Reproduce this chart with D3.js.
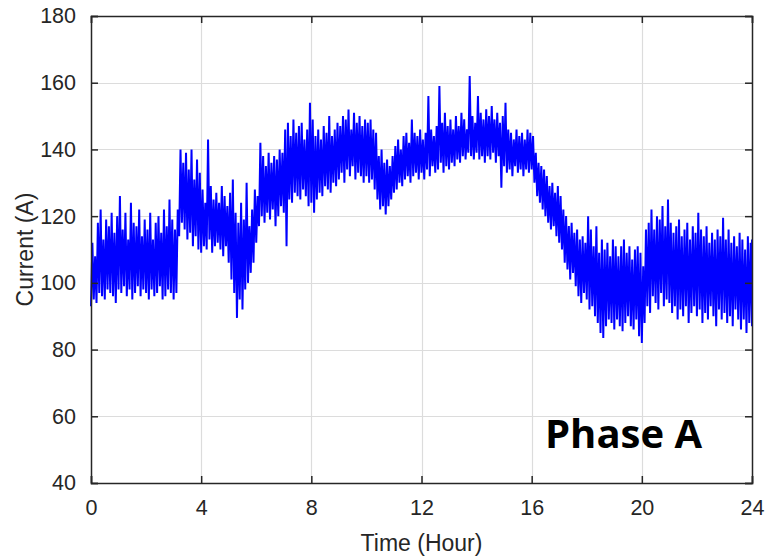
<!DOCTYPE html>
<html>
<head>
<meta charset="utf-8">
<script src="https://cdn.jsdelivr.net/npm/d3@7"></script>
<style>
  html, body { margin: 0; padding: 0; background: #fff; }
  svg { display: block; }
  text { font-family: "Liberation Sans", Arial, Helvetica, sans-serif; fill: #262626; }
</style>
</head>
<body>
<script>
// ---- data ----
const xTicks = [0, 4, 8, 12, 16, 20, 24];
const yTicks = [40, 60, 80, 100, 120, 140, 160, 180];
const step = 0.1; // hours between samples
// upper envelope of the current trace, every 0.1 h from 0 to 24
const hi = [
  112,108,118,122,113,119,117,121,115,120,
  126,116,121,113,124,118,117,122,114,119,
  116,121,113,118,120,115,122,117,125,119,
  116,122,140,136,139,134,140,131,137,133,
  128,124,143,129,125,127,124,129,126,123,
  127,131,121,118,124,119,130,117,122,128,
  126,142,138,135,139,136,138,137,140,139,
  146,148,144,149,145,147,148,143,146,154,
  149,144,146,143,147,145,150,144,146,148,
  147,150,149,152,146,151,148,150,147,149,
  148,149,146,145,138,140,136,137,135,138,
  141,143,140,144,145,142,149,145,144,146,
  143,145,156,146,144,147,159,148,151,147,
  149,146,150,147,151,149,146,162,150,148,
  156,151,149,152,150,153,149,151,148,150,
  154,146,145,143,146,144,145,143,146,145,
  144,139,136,135,134,132,129,130,127,129,
  126,122,120,117,118,115,116,113,114,112,
  120,116,111,117,109,113,110,112,108,113,
  111,108,111,113,109,111,107,110,111,109,
  105,116,118,122,116,120,119,123,117,125,
  118,115,117,119,114,116,118,113,117,115,
  121,116,114,117,112,115,113,116,114,119.5,
  113,116,112,114,111,115,113,110,114,112,
  113
];
// lower envelope of the current trace, every 0.1 h from 0 to 24
const lo = [
  93,95,94,97,96,95,98,97,96,94,
  98,97,99,96,98,95,97,99,96,98,
  97,95,98,96,97,99,95,96,98,97,
  95,97,114,118,116,113,115,111,114,110,
  109,111,110,113,109,111,112,110,108,111,
  106,101,97,89.5,95,92,98,100,103,106,
  112,117,120,118,121,119,122,117,120,123,
  121,111,125,124,127,126,125,128,126,123,
  124,121,125,127,126,129,128,127,130,129,
  131,133,130,134,132,135,131,133,132,130,
  132,130,131,128,125,122,123,120.5,123,125,
  127,128,130,129,131,132,130,132,133,131,
  133,131,134,132,135,133,134,136,133,135,
  134,136,135,137,136,138,137,139,138,137,
  139,137,138,136,138,137,139,136,138,128.5,
  135,133,134,132,135,133,134,132,134,133,
  134,130,126,124,122,120,118,116,117,114,
  112,110,106,104,101,103,99,96,94,97,
  95,92,93,90,88,85,83.5,87,89,88,
  86,89,87,85.5,88,90,87,86,89,84,
  82,88,93,91,96,94,92,97,93,95,
  94,91,93,89,92,90,93,88,91,93,
  90,92,88,91,89,93,90,87,92,89,
  91,88,90,87,92,89,86,89,85,88,
  87
];
const xLabel = "Time (Hour)";
const yLabel = "Current (A)";
const annotation = "Phase A";

// ---- layout ----
const W = 768, H = 556;
const m = { left: 91, right: 16, top: 16, bottom: 73 };
const pw = W - m.left - m.right, ph = H - m.top - m.bottom;

const svg = d3.select("body").append("svg").attr("width", W).attr("height", H);
const g = svg.append("g").attr("transform", `translate(${m.left},${m.top})`);

const x = d3.scaleLinear().domain([0, 24]).range([0, pw]);
const y = d3.scaleLinear().domain([40, 180]).range([ph, 0]);

// grid
g.append("g").selectAll("line").data(xTicks.slice(1, -1)).join("line")
  .attr("x1", d => Math.round(x(d)) + 0.5).attr("x2", d => Math.round(x(d)) + 0.5)
  .attr("y1", 0).attr("y2", ph).attr("stroke", "#dcdcdc").attr("stroke-width", 1.2);
g.append("g").selectAll("line").data(yTicks.slice(1, -1)).join("line")
  .attr("y1", d => Math.round(y(d)) + 0.5).attr("y2", d => Math.round(y(d)) + 0.5)
  .attr("x1", 0).attr("x2", pw).attr("stroke", "#dcdcdc").attr("stroke-width", 1.2);

// series: zig-zag between low and high envelope samples
const pts = [];
hi.forEach((h, i) => {
  const t = i * step;
  pts.push([t, lo[i]]);
  if (i < hi.length - 1) pts.push([t + step / 2, h]);
  else pts.push([t, h]);
});
const line = d3.line().x(d => x(d[0])).y(d => y(d[1]));
g.append("path").datum(pts).attr("d", line)
  .attr("fill", "none").attr("stroke", "#0000ff").attr("stroke-width", 2)
  .attr("stroke-linejoin", "miter").attr("stroke-miterlimit", 2);

// axes (MATLAB-style box with inward ticks)
const tickLen = 7;
const axB = g.append("g").attr("transform", `translate(0,${ph})`)
  .call(d3.axisBottom(x).tickValues(xTicks).tickSize(-tickLen).tickPadding(tickLen + 10).tickFormat(d3.format("d")));
const axT = g.append("g")
  .call(d3.axisTop(x).tickValues(xTicks).tickSize(-tickLen).tickFormat(""));
const axL = g.append("g")
  .call(d3.axisLeft(y).tickValues(yTicks).tickSize(-tickLen).tickPadding(tickLen + 8).tickFormat(d3.format("d")));
const axR = g.append("g").attr("transform", `translate(${pw},0)`)
  .call(d3.axisRight(y).tickValues(yTicks).tickSize(-tickLen).tickFormat(""));
[axB, axT, axL, axR].forEach(a => {
  a.select(".domain").attr("stroke", "#262626").attr("stroke-width", 1.5);
  a.selectAll(".tick line").attr("stroke", "#262626").attr("stroke-width", 1.5);
  a.selectAll(".tick text").style("font-size", "21.5px").style("font-family", '"Liberation Sans", Arial, sans-serif').attr("fill", "#262626");
});

// axis titles
svg.append("text").attr("x", m.left + pw / 2).attr("y", 551)
  .attr("text-anchor", "middle").style("font-size", "23px").text(xLabel);
svg.append("text").attr("transform", `translate(33,${m.top + ph / 2}) rotate(-90)`)
  .attr("text-anchor", "middle").style("font-size", "23px").text(yLabel);

// annotation
svg.append("text").attr("x", 545).attr("y", 448)
  .style("font-family", '"Open Sans", "Noto Sans", sans-serif').style("font-weight", 700)
  .style("font-size", "40px").style("fill", "#000").text(annotation);
</script>
</body>
</html>
